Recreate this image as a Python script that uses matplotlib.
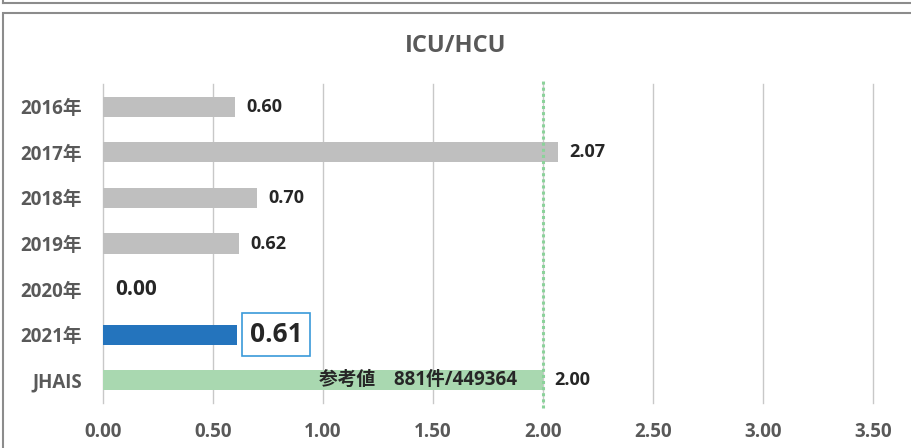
import matplotlib.pyplot as plt
from matplotlib.patches import Rectangle

# Chart data
categories = ['2016年', '2017年', '2018年', '2019年', '2020年', '2021年', 'JHAIS']
values = [0.60, 2.07, 0.70, 0.62, 0.00, 0.61, 2.00]
bar_colors = ['#bfbfbf', '#bfbfbf', '#bfbfbf', '#bfbfbf', '#bfbfbf', '#2474bd', '#a9d8b0']
x_ticks = [0.0, 0.5, 1.0, 1.5, 2.0, 2.5, 3.0, 3.5]
reference_value = 2.00
reference_text = '参考値　881件/449364'

plt.rcParams['font.family'] = ['Open Sans', 'Noto Sans CJK JP', 'DejaVu Sans']
plt.rcParams['font.weight'] = 'bold'

fig = plt.figure(figsize=(9.12, 4.48), dpi=100)
ax = fig.add_axes([103 / 912, 1 - 403 / 448, 770 / 912, 319 / 448])

y_pos = list(range(len(categories)))
ax.barh(y_pos, values, height=0.44, color=bar_colors, zorder=2)
ax.set_ylim(len(categories) - 0.5, -0.5)
ax.set_xlim(0, 3.5)

# gridlines and ticks
ax.set_xticks(x_ticks)
ax.set_xticklabels([f'{t:.2f}' for t in x_ticks])
ax.grid(axis='x', color='#c8c8c8', linewidth=1.0, zorder=0)
for gl in ax.get_xgridlines():
    gl.set_clip_on(False)
for s in ax.spines.values():
    s.set_visible(False)
ax.tick_params(length=0, labelsize=13.5, labelcolor='#595959')
ax.tick_params(axis='x', pad=14)
ax.tick_params(axis='y', pad=15)
ax.set_yticks(y_pos)
ax.set_yticklabels(categories)

# reference line
ax.axvline(reference_value, color='#8bd29a', linewidth=2.2, linestyle=(0, (1, 1)),
           ymin=-0.016, ymax=1.012, clip_on=False, zorder=3)

# value labels
for i, v in enumerate(values):
    if i == 5:
        ax.annotate(f'{v:.2f}', (v, i), xytext=(9, 0), textcoords='offset points',
                    va='center', ha='left', fontsize=19, color='#262626',
                    bbox=dict(boxstyle='square,pad=0.3', fc='white', ec='#3a9ad9', lw=1.2))
    elif i == 4:
        ax.annotate(f'{v:.2f}', (v, i), xytext=(9, 0), textcoords='offset points',
                    va='center', ha='left', fontsize=15, color='#262626')
    else:
        ax.annotate(f'{v:.2f}', (v, i), xytext=(8, 0), textcoords='offset points',
                    va='center', ha='left', fontsize=13, color='#262626')

ax.text(1.88, len(categories) - 1, reference_text, ha='right', va='center',
        fontsize=13.5, color='#262626', zorder=4)

fig.text(0.5, 1 - 46 / 448, 'ICU/HCU', ha='center', va='center',
         fontsize=17, color='#595959')

# chart frames
fig.patches.append(Rectangle((3 / 912, -0.01), 1.0, 1 - 13 / 448 + 0.01,
                             transform=fig.transFigure, fill=False, ec='#8c8c8c', lw=1.5))
fig.lines.append(plt.Line2D([3 / 912, 1], [1 - 3 / 448, 1 - 3 / 448],
                            transform=fig.transFigure, color='#8c8c8c', lw=1.5))
fig.lines.append(plt.Line2D([3 / 912, 3 / 912], [1 - 3 / 448, 1],
                            transform=fig.transFigure, color='#8c8c8c', lw=1.5))

fig.savefig('out.png', dpi=100)
